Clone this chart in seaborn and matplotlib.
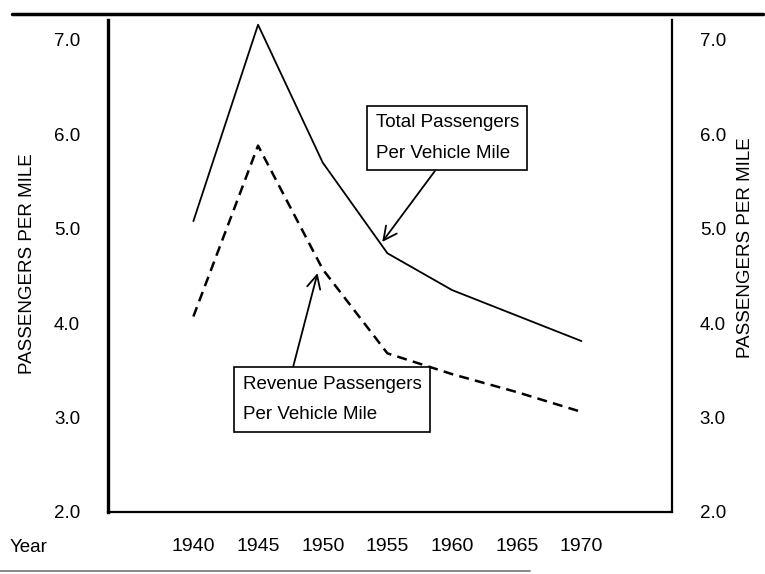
import pandas as pd
import matplotlib
matplotlib.use("Agg")
import matplotlib.pyplot as plt
import seaborn as sns

# Data
years = [1940, 1945, 1950, 1955, 1960, 1965, 1970]
total_per_mile = [5.08, 7.16, 5.70, 4.74, 4.35, 4.08, 3.81]
revenue_per_mile = [4.07, 5.88, 4.57, 3.68, 3.46, 3.27, 3.06]
y_ticks = [2.0, 3.0, 4.0, 5.0, 6.0, 7.0]

df = pd.DataFrame({"Year": years, "Total": total_per_mile, "Revenue": revenue_per_mile})

sns.set_style("white")
plt.rcParams["font.family"] = ["Liberation Sans", "DejaVu Sans"]
plt.rcParams["text.color"] = "black"
plt.rcParams["xtick.color"] = "black"
plt.rcParams["ytick.color"] = "black"

W, H = 765, 574
fig = plt.figure(figsize=(W / 100, H / 100), dpi=100)
# axes box in pixels: left 108, right 672, top 20, bottom 512
ax = fig.add_axes([108 / W, 1 - 512 / H, (672 - 108) / W, (512 - 20) / H])

sns.lineplot(data=df, x="Year", y="Total", ax=ax, color="black", linewidth=1.3)
sns.lineplot(data=df, x="Year", y="Revenue", ax=ax, color="black", linewidth=1.8,
             linestyle=(0, (4, 2.5)))

ax.set_xlim(1933.4, 1977.0)
ax.set_ylim(2.0, 7.21)
ax.set_xlabel("")
ax.set_ylabel("")

ax.set_xticks(years)
ax.set_xticklabels([str(y) for y in years], fontsize=14)
ax.set_yticks(y_ticks)
ax.set_yticklabels([f"{v:.1f}" for v in y_ticks], fontsize=13.5)
ax.tick_params(axis="both", length=0)
ax.tick_params(axis="x", pad=19)
ax.tick_params(axis="y", pad=20)

for side in ["left", "right", "bottom"]:
    ax.spines[side].set_visible(True)
    ax.spines[side].set_color("black")
ax.spines["left"].set_linewidth(2.4)
ax.spines["right"].set_linewidth(1.6)
ax.spines["bottom"].set_linewidth(1.6)
ax.spines["top"].set_visible(False)

# right hand scale repeats the left one
ax2 = ax.twinx()
ax2.set_ylim(ax.get_ylim())
ax2.set_yticks(y_ticks)
ax2.set_yticklabels([f"{v:.1f}" for v in y_ticks], fontsize=13.5)
ax2.tick_params(axis="y", length=0, pad=20)
for side in ax2.spines:
    ax2.spines[side].set_visible(False)
ax2.grid(False)

fig.text(28 / W, 1 - 264 / H, "PASSENGERS PER MILE", rotation=90,
         ha="center", va="center", fontsize=13.5)
fig.text(745 / W, 1 - 248 / H, "PASSENGERS PER MILE", rotation=90,
         ha="center", va="center", fontsize=13.5)
fig.text(10 / W, 1 - 548 / H, "Year", ha="left", va="center", fontsize=13.5)

# callout boxes with arrows
box = dict(boxstyle="square,pad=0.45", facecolor="white", edgecolor="black", linewidth=1.2)
ax.annotate("Total Passengers\nPer Vehicle Mile", xy=(1954.6, 4.86), xytext=(1954.1, 5.96),
            fontsize=13.5, ha="left", va="center", linespacing=2.05, bbox=box, zorder=5,
            arrowprops=dict(arrowstyle="->", color="black", lw=1.3, mutation_scale=24,
                            shrinkA=0, shrinkB=0, relpos=(0.46, 0.0)))
ax.annotate("Revenue Passengers\nPer Vehicle Mile", xy=(1949.6, 4.53), xytext=(1943.8, 3.19),
            fontsize=13.5, ha="left", va="center", linespacing=2.05, bbox=box, zorder=5,
            arrowprops=dict(arrowstyle="->", color="black", lw=1.3, mutation_scale=24,
                            shrinkA=0, shrinkB=0, relpos=(0.27, 1.0)))

# heavy rule across the top of the page and a faint one at the foot
fig.add_artist(plt.Line2D([12 / W, 763 / W], [1 - 14 / H, 1 - 14 / H],
                          color="black", linewidth=2.5))
fig.add_artist(plt.Line2D([0, 530 / W], [1 - 571 / H, 1 - 571 / H],
                          color="0.45", linewidth=1.2))

fig.savefig("out.png", dpi=100)
